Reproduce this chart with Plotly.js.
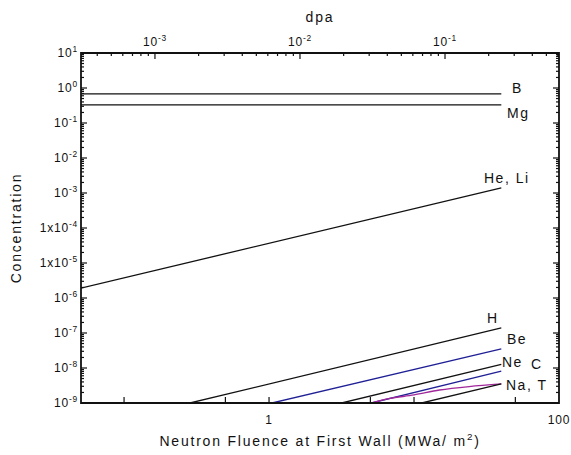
<!DOCTYPE html>
<html><head><meta charset="utf-8">
<script src="https://cdn.plot.ly/plotly-3.0.1.min.js"></script>
<style>
html,body{margin:0;padding:0;background:#fff}
.xtitle,.ytitle,.x2title{letter-spacing:1.8px}
.annotation-text{letter-spacing:1.5px}
.xtick text,.ytick text,.x2tick text{letter-spacing:0.8px}
</style>
</head><body><div id="chart" style="width:571px;height:455px"></div>
<script>
// Neutron fluence (MWa/m^2) and concentration for each species
const fluenceB = [0.05, 40];   const concB = [0.68, 0.68];
const fluenceMg = [0.05, 40];  const concMg = [0.33, 0.33];
const fluenceHeLi = [0.05, 40]; const concHeLi = [1.9e-6, 1.4e-3];
const fluenceH = [0.285, 40];  const concH = [1e-9, 1.4e-7];
const fluenceBe = [1.05, 40];  const concBe = [1e-9, 3.5e-8];
const fluenceNe = [3.17, 40];  const concNe = [1e-9, 1.26e-8];
const fluenceC = [5.1, 40];    const concC = [1e-9, 8.1e-9];
const fluenceNa = [5.1, 6.8, 10, 15, 24, 40];
const concNa = [1e-9, 1.35e-9, 1.7e-9, 2.35e-9, 2.95e-9, 3.5e-9];
const fluenceT = [11.3, 40];   const concT = [1e-9, 3.5e-9];
// dpa per unit fluence
const dpaPerFluence = 0.0061;

const yTickVals = [1e-9,1e-8,1e-7,1e-6,1e-5,1e-4,1e-3,1e-2,1e-1,1e0,1e1];
const yTickText = ['10<sup>-9</sup>','10<sup>-8</sup>','10<sup>-7</sup>','10<sup>-6</sup>','1x10<sup>-5</sup>','1x10<sup>-4</sup>','10<sup>-3</sup>','10<sup>-2</sup>','10<sup>-1</sup>','10<sup>0</sup>','10<sup>1</sup>'];
const xTickVals = [0.1, 0.5, 1, 5, 10, 50, 100];
const xTickText = ['', '', '1', '', '', '', '100'];
const dpaTickVals = [1e-3, 1e-2, 1e-1];
const dpaTickText = ['10<sup>-3</sup>','10<sup>-2</sup>','10<sup>-1</sup>'];

const labels = [
  {t:'B', x:1.717, y:0.0},
  {t:'Mg', x:1.717, y:-0.714},
  {t:'He, Li', x:1.641, y:-2.571},
  {t:'H', x:1.545, y:-6.571},
  {t:'Be', x:1.71, y:-7.171},
  {t:'Ne', x:1.676, y:-7.829},
  {t:'C', x:1.848, y:-7.886},
  {t:'Na, T', x:1.779, y:-8.486}
];

function minorVals(lo, hi){ const v=[]; for(let e=lo;e<hi;e++){ for(let m=2;m<=9;m++) v.push(m*Math.pow(10,e)); } return v; }

const xRange = [-1.297, 2.0], dpaRange = [-3.51, -0.214], yRange = [-9, 1];
const W = 571 - 81 - 12, H = 455 - 53 - 52;

// frame and tick marks, positioned from the axis ranges
const shapes = [{type:'rect', xref:'paper', yref:'paper', x0:0, x1:1, y0:0, y1:1, line:{color:'#111', width:1.8}, layer:'above'}];
function frac(v, r){ return (Math.log10(v) - r[0]) / (r[1] - r[0]); }
function yTick(v, len){
  const f = frac(v, yRange); if (f <= 0.001 || f >= 0.999) return;
  shapes.push({type:'line', xref:'x domain', yref:'y domain', x0:0, x1:len/W, y0:f, y1:f, line:{color:'#111', width:1.2}});
  shapes.push({type:'line', xref:'x domain', yref:'y domain', x0:1-len/W, x1:1, y0:f, y1:f, line:{color:'#111', width:1.2}});
}
function xTick(v, r, top, len){
  const f = frac(v, r); if (f <= 0.001 || f >= 0.999) return;
  const y0 = top ? 1 - len/H : 0, y1 = top ? 1 : len/H;
  shapes.push({type:'line', xref:'x domain', yref:'y domain', x0:f, x1:f, y0:y0, y1:y1, line:{color:'#111', width:1.2}});
}
yTickVals.forEach(v => yTick(v, 6));
minorVals(-9, 1).forEach(v => yTick(v, 3));
xTickVals.forEach(v => xTick(v, xRange, false, 6));
dpaTickVals.forEach(v => xTick(v, dpaRange, true, 6));
minorVals(-4, 0).forEach(v => xTick(v, dpaRange, true, 3));

const black = '#111', blue = '#1f1f96', purple = '#a0289a';
function ln(x, y, c){ return {x:x, y:y, mode:'lines', line:{color:c, width:1.3}, hoverinfo:'none', showlegend:false}; }
const dpaB = fluenceB.map(f=>f*dpaPerFluence);
const traces = [
  ln(fluenceB, concB, black), ln(fluenceMg, concMg, black), ln(fluenceHeLi, concHeLi, black),
  ln(fluenceH, concH, black), ln(fluenceBe, concBe, blue), ln(fluenceNe, concNe, black),
  ln(fluenceC, concC, blue), Object.assign(ln(fluenceNa, concNa, purple), {line:{color:purple, width:1.3, shape:'spline'}}),
  ln(fluenceT, concT, black),
  // invisible carrier so that the dpa axis is drawn
  {x:dpaB, y:concB, xaxis:'x2', yaxis:'y', mode:'lines', line:{width:0, color:'rgba(0,0,0,0)'}, hoverinfo:'none', showlegend:false}
];

const font = {family:'Liberation Sans, Arial, sans-serif', color:'#111'};
const layout = {
  width:571, height:455,
  margin:{l:81, r:12, t:53, b:52},
  paper_bgcolor:'#fff', plot_bgcolor:'#fff',
  showlegend:false, hovermode:false,
  font:Object.assign({size:12}, font),
  xaxis:{type:'log', range:xRange, tickmode:'array', tickvals:xTickVals, ticktext:xTickText,
    ticks:'', showgrid:false, zeroline:false, showline:false, ticklabelstandoff:8,
    tickfont:Object.assign({size:12}, font),
    title:{text:'Neutron Fluence at First Wall (MWa/ m<sup>2</sup>)', font:Object.assign({size:14}, font), standoff:10}},
  xaxis2:{type:'log', overlaying:'x', side:'top', anchor:'y', range:dpaRange,
    tickmode:'array', tickvals:dpaTickVals, ticktext:dpaTickText,
    ticks:'', showgrid:false, zeroline:false, showline:false, ticklabelstandoff:4,
    tickfont:Object.assign({size:12}, font),
    title:{text:'dpa', font:Object.assign({size:14}, font), standoff:6}},
  yaxis:{type:'log', range:yRange, tickmode:'array', tickvals:yTickVals, ticktext:yTickText,
    ticks:'', showgrid:false, zeroline:false, showline:false, ticklabelstandoff:2,
    tickfont:Object.assign({size:12}, font),
    title:{text:'Concentration', font:Object.assign({size:14}, font), standoff:14}},
  shapes: shapes,
  annotations: labels.map(l => ({text:l.t, x:l.x, y:l.y, xref:'x', yref:'y', showarrow:false,
    font:Object.assign({size:14}, font)}))
};
Plotly.newPlot('chart', traces, layout, {displayModeBar:false, responsive:false});
</script></body></html>
